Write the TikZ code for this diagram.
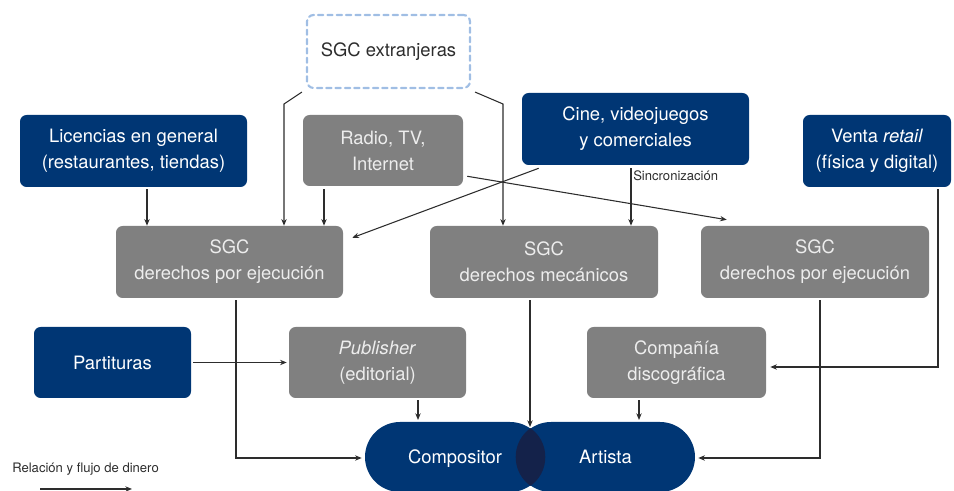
\documentclass[tikz,border=0pt]{standalone}
\usepackage{fontspec}
\setmainfont{TeX Gyre Heros}
\usetikzlibrary{calc,arrows.meta}
\definecolor{dblue}{RGB}{0,54,116}
\definecolor{mgray}{RGB}{128,128,128}
\definecolor{dashblue}{RGB}{160,190,228}
\definecolor{lensblue}{RGB}{20,34,74}
\definecolor{lnk}{RGB}{45,45,45}
\begin{document}
\begin{tikzpicture}[x=0.75pt,y=-0.75pt,
  sz/.style 2 args={minimum width=#1*0.75pt,minimum height=#2*0.75pt},
  boxbase/.style={rectangle,rounded corners=5pt,inner sep=0pt,align=center,
    font=\fontsize{13.8}{19.5}\selectfont},
  bluebox/.style={boxbase,fill=dblue,text=white},
  graybox/.style={boxbase,fill=mgray,text=white!93!black},
  extbox/.style={boxbase,draw=dashblue,line width=1.6pt,dash pattern=on 4pt off 3pt,line cap=round,text=lnk},
  capsule/.style={boxbase,fill=dblue,text=white,rounded corners=26.25pt,text height=12pt,text depth=1.5pt},
  arr/.style={draw=lnk,line width=0.8pt,-{Stealth[length=5pt,width=4pt]}},
  small/.style={font=\fontsize{9.8}{11}\selectfont,text=lnk,inner sep=0pt}]
\useasboundingbox (0,0) rectangle (954,491);
% nodes
\node[extbox,sz={163}{73}] (ext) at (388.5,51.5) {SGC extranjeras};
\node[graybox,sz={160}{71}] (radio) at (383,150.5) {Radio, TV,\\Internet};
\node[bluebox,sz={227}{72}] (lic) at (133.5,151) {Licencias en general\\(restaurantes, tiendas)};
\node[bluebox,sz={227}{72}] (cine) at (635.5,129) {Cine, videojuegos\\y comerciales};
\node[bluebox,sz={148}{72}] (venta) at (877,151) {Venta \textit{retail}\\(física y digital)};
\node[graybox,sz={227}{72}] (sgcL) at (229.5,262) {SGC\\derechos por ejecución};
\node[graybox,sz={228}{72}] (sgcM) at (544,262) {SGC\\derechos mecánicos};
\node[graybox,sz={228}{72}] (sgcR) at (815,262) {SGC\\derechos por ejecución};
\node[bluebox,sz={157}{71}] (part) at (112.5,362.5) {Partituras};
\node[graybox,sz={177}{71}] (pub) at (377.5,362.5) {\textit{Publisher}\\(editorial)};
\node[graybox,sz={179}{71}] (comp) at (676.5,362.5) {Compañía\\discográfica};
\node[capsule,sz={180}{70}] (compo) at (455,457) {Compositor};
\node[capsule,sz={179}{70}] (art) at (605.5,457) {Artista};
\begin{scope}
  \clip[rounded corners=26.25pt] (compo.south west) rectangle (compo.north east);
  \fill[lensblue,rounded corners=26.25pt] (art.south west) rectangle (art.north east);
\end{scope}
% connectors
\draw[arr] (147,0 |- lic.south) ++(0,2) -- (147,0 |- sgcL.north);
\draw[arr] ($(ext.south west)+(-4,3)$) -- (284,104) -- (284,0 |- sgcL.north);
\draw[arr] (324,0 |- radio.south) ++(0,3) -- (324,0 |- sgcL.north);
\draw[arr] ($(ext.south east)+(4,3)$) -- (503,104) -- (503,0 |- sgcM.north);
\draw[arr] ($(cine.south west)+(17,3)$) -- ($(sgcL.north east)+(9,12)$);
\draw[arr] ($(radio.south east)+(4,-10)$) -- ($(sgcR.north west)+(26,-6)$);
\draw[arr] (631,0 |- cine.south) ++(0,3) coordinate (sync) -- (631,0 |- sgcM.north);
\node[small,anchor=west] (synclbl) at ($(sync)+(2,7)$) {Sincronización};
\draw[arr] ($(venta.south)+(61,2)$) |- ($(comp.east)+(4,4.5)$);
\draw[arr] ($(sgcR.south)+(5,2)$) |- ($(art.east)+(3,1)$);
\draw[arr] ($(sgcL.south)+(6.5,2)$) |- ($(compo.west)+(-3,1)$);
\draw[arr] ($(sgcM.south)+(-14,2)$) -- (530,427);
\draw[arr] ($(part.east)+(2,0)$) -- ($(pub.west)+(-2,0)$);
\draw[arr] ($(pub.south)+(40.5,2)$) -- (418,420);
\draw[arr] ($(comp.south)+(-37.5,2)$) -- (639,420);
% legend
\node[small,anchor=west] (leg) at (12,469) {Relación y flujo de dinero};
\coordinate (legA) at (40,489);
\coordinate (legB) at (132,489);
\draw[arr] (legA) -- (legB);
\end{tikzpicture}
\end{document}
